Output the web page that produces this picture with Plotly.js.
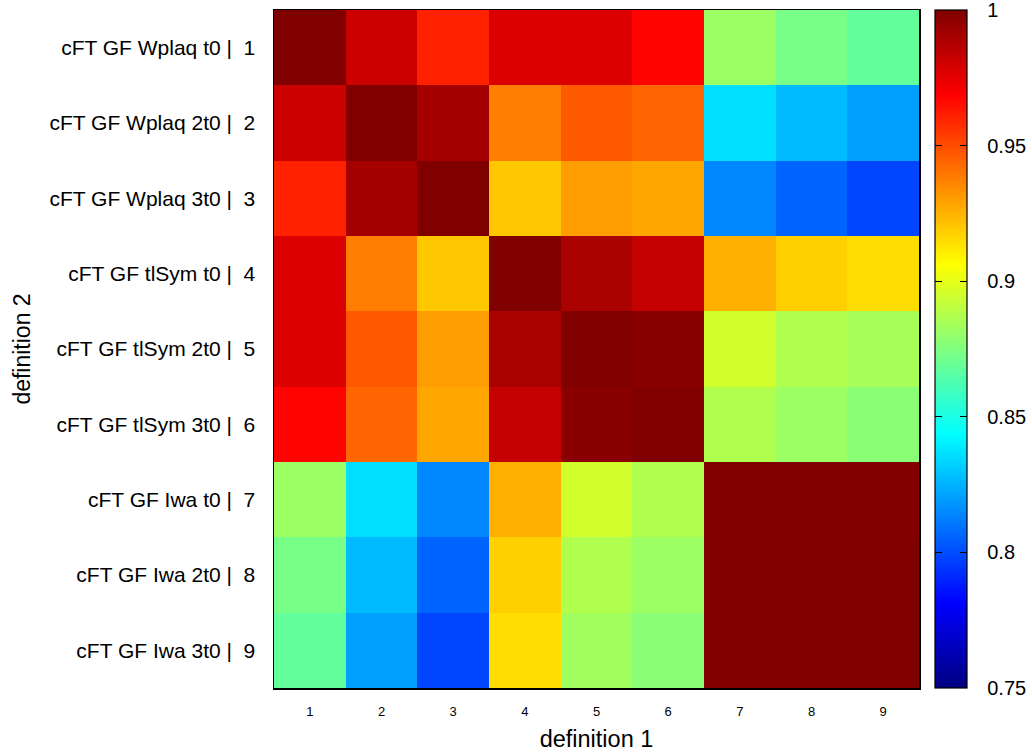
<!DOCTYPE html>
<html>
<head>
<meta charset="utf-8">
<script src="https://cdn.plot.ly/plotly-3.0.1.min.js"></script>
<style>html,body{margin:0;padding:0;background:#fff;}#chart{width:1032px;height:755px;}</style>
</head>
<body>
<div id="chart"></div>
<script>
// Column / row indices
const xIdx = [1, 2, 3, 4, 5, 6, 7, 8, 9];
const yIdx = [1, 2, 3, 4, 5, 6, 7, 8, 9];
// Row labels (definition 2)
const rowLabels = [
  "cFT GF Wplaq t0 |  1",
  "cFT GF Wplaq 2t0 |  2",
  "cFT GF Wplaq 3t0 |  3",
  "cFT GF tlSym t0 |  4",
  "cFT GF tlSym 2t0 |  5",
  "cFT GF tlSym 3t0 |  6",
  "cFT GF Iwa t0 |  7",
  "cFT GF Iwa 2t0 |  8",
  "cFT GF Iwa 3t0 |  9"
];
const colLabels = ["1", "2", "3", "4", "5", "6", "7", "8", "9"];
// Correlation values, one row per definition 2
const row1 = [1.000, 0.981, 0.961, 0.977, 0.977, 0.968, 0.882, 0.873, 0.868];
const row2 = [0.981, 1.000, 0.991, 0.938, 0.947, 0.944, 0.836, 0.827, 0.8205];
const row3 = [0.961, 0.991, 1.000, 0.920, 0.9305, 0.928, 0.814, 0.806, 0.7985];
const row4 = [0.977, 0.938, 0.920, 1.000, 0.990, 0.983, 0.9256, 0.918, 0.9146];
const row5 = [0.977, 0.947, 0.9305, 0.990, 1.000, 0.9975, 0.895, 0.887, 0.885];
const row6 = [0.968, 0.944, 0.928, 0.983, 0.9975, 1.000, 0.887, 0.882, 0.8775];
const row7 = [0.882, 0.836, 0.814, 0.9256, 0.895, 0.887, 1.000, 0.9995, 0.9995];
const row8 = [0.873, 0.827, 0.806, 0.918, 0.887, 0.882, 0.9995, 1.000, 1.000];
const row9 = [0.868, 0.8205, 0.7985, 0.9146, 0.883, 0.8775, 0.9995, 1.000, 1.000];
const zRows = [row1, row2, row3, row4, row5, row6, row7, row8, row9];
// Colorbar ticks
const cbTickVals = [0.75, 0.8, 0.85, 0.9, 0.95, 1];
const cbTickText = ["0.75", "0.8", "0.85", "0.9", "0.95", "1"];
const zMin = 0.75, zMax = 1.0;

const jet = [
  [0, '#000080'], [0.125, '#0000ff'], [0.375, '#00ffff'],
  [0.625, '#ffff00'], [0.875, '#ff0000'], [1, '#800000']
];

const W = 1032, H = 755;
const mL = 274, mR = 113, mT = 10, mB = 67;
const pw = W - mL - mR;
const cbX = (935 - mL) / pw;
const cbThick = 32;
const pad = '\u00A0\u00A0\u2009';

const trace = {
  type: 'heatmap',
  x: xIdx, y: yIdx, z: zRows,
  zmin: zMin, zmax: zMax,
  colorscale: jet,
  xgap: 0, ygap: 0,
  colorbar: {
    x: cbX, xanchor: 'left', xpad: 0, ypad: 0,
    y: 0.5, yanchor: 'middle', len: 1, lenmode: 'fraction',
    thickness: cbThick, thicknessmode: 'pixels',
    outlinewidth: 1.2, outlinecolor: '#000',
    tickmode: 'array', tickvals: cbTickVals, ticktext: cbTickText.map(t => pad + t),
    ticks: 'inside', ticklen: 7, tickcolor: '#000', tickwidth: 1.3,
    ticklabeloverflow: 'allow',
    tickfont: {family: 'Liberation Sans, Arial, sans-serif', size: 20, color: '#000'}
  }
};

// invisible companion scale that only supplies the left-edge inner ticks of the colorbar
const tickTrace = {
  type: 'heatmap',
  x: xIdx, y: yIdx, z: zRows,
  zmin: zMin, zmax: zMax, opacity: 0,
  colorscale: [[0, 'rgba(0,0,0,0)'], [1, 'rgba(0,0,0,0)']],
  hoverinfo: 'skip',
  colorbar: {
    x: cbX, xanchor: 'left', xpad: 0, ypad: 0,
    y: 0.5, yanchor: 'middle', len: 1, lenmode: 'fraction',
    thickness: 7, thicknessmode: 'pixels',
    outlinewidth: 0, bgcolor: 'rgba(0,0,0,0)',
    tickmode: 'array', tickvals: cbTickVals.slice(1, -1),
    ticks: 'inside', ticklen: 7, tickcolor: '#000', tickwidth: 1.3,
    showticklabels: false
  }
};

const layout = {
  width: W, height: H,
  margin: {l: mL, r: mR, t: mT, b: mB, pad: 0, autoexpand: false},
  paper_bgcolor: '#fff', plot_bgcolor: '#fff',
  font: {family: 'Liberation Sans, Arial, sans-serif', color: '#000'},
  xaxis: {
    range: [0.5, 9.5], tickmode: 'array', tickvals: xIdx, ticktext: colLabels,
    ticks: '', showgrid: false, zeroline: false,
    showline: true, mirror: true, linecolor: '#000', linewidth: 1.5,
    tickfont: {size: 13}, ticklabelstandoff: 11,
    title: {text: 'definition 1', font: {size: 23.5}, standoff: 12}
  },
  yaxis: {
    range: [9.5, 0.5], tickmode: 'array', tickvals: yIdx, ticktext: rowLabels,
    ticks: '', showgrid: false, zeroline: false,
    showline: true, mirror: true, linecolor: '#000', linewidth: 1.5,
    tickfont: {size: 21}, ticklabelstandoff: 13,
    title: {text: 'definition 2', font: {size: 23}, standoff: 12}
  }
};

Plotly.newPlot('chart', [trace, tickTrace], layout, {displayModeBar: false, staticPlot: true});
</script>
</body>
</html>
